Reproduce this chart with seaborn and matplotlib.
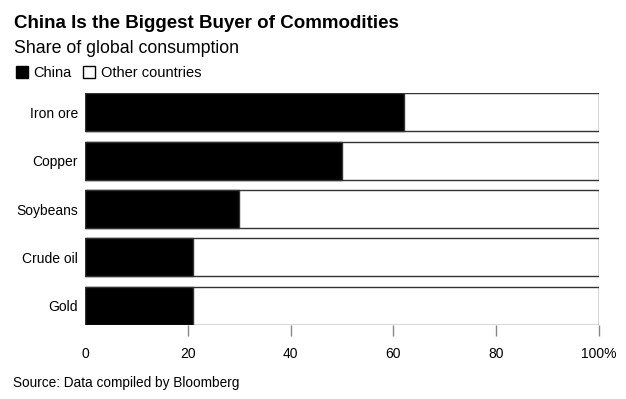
import pandas as pd
import matplotlib.pyplot as plt
import seaborn as sns
from matplotlib.patches import Patch

# data (share of global consumption, %)
commodities = ['Iron ore', 'Copper', 'Soybeans', 'Crude oil', 'Gold']
china_share = [62, 50, 30, 21, 21]
total_share = [100, 100, 100, 100, 100]
x_ticks = [0, 20, 40, 60, 80, 100]
x_tick_labels = ['0', '20', '40', '60', '80', '100%']

df = pd.DataFrame({'Commodity': commodities, 'China': china_share, 'Total': total_share})

sns.set_style('white')
plt.rcParams['font.family'] = ['Liberation Sans', 'DejaVu Sans']
plt.rcParams['text.color'] = 'black'
plt.rcParams['xtick.color'] = 'black'
plt.rcParams['ytick.color'] = 'black'

fig = plt.figure(figsize=(6.26, 3.99), dpi=100)
ax = fig.add_axes([85 / 626, 1 - 325 / 399, 514 / 626, 232 / 399])

# full bar = other countries (white), china drawn on top in black
sns.barplot(data=df, x='Total', y='Commodity', color='white', edgecolor='#333333',
            linewidth=1, width=0.79, ax=ax)
sns.barplot(data=df, x='China', y='Commodity', color='black', edgecolor='#333333',
            linewidth=1, width=0.79, ax=ax)

ax.set_xlim(0, 100)
ax.set_ylim(4.4, -0.4)
ax.set_xticks(x_ticks)
ax.set_xticklabels(x_tick_labels, fontsize=10)
ax.set_xlabel('')
ax.set_ylabel('')
ax.tick_params(axis='x', length=8, width=1, color='#888888', labelcolor='black', pad=8, bottom=True)
ax.tick_params(axis='y', length=0, labelsize=10, labelcolor='black', pad=5)
ax.xaxis.get_major_ticks()[0].tick1line.set_visible(False)
sns.despine(ax=ax, left=True, bottom=True)

fig.text(14 / 626, 1 - 28 / 399, 'China Is the Biggest Buyer of Commodities',
         fontsize=13.5, fontweight='bold', ha='left', va='baseline', color='black')
fig.text(14 / 626, 1 - 53 / 399, 'Share of global consumption',
         fontsize=12.8, ha='left', va='baseline', color='black')
fig.text(13 / 626, 1 - 387 / 399, 'Source: Data compiled by Bloomberg',
         fontsize=9.8, ha='left', va='baseline', color='black')

handles = [Patch(facecolor='black', edgecolor='black', label='China'),
           Patch(facecolor='white', edgecolor='black', label='Other countries')]
fig.legend(handles=handles, loc='center left', bbox_to_anchor=(16 / 626, 1 - 73 / 399),
           ncol=2, frameon=False, fontsize=10.5, handlelength=0.8, handleheight=0.8,
           handletextpad=0.4, columnspacing=0.8, borderaxespad=0, borderpad=0)

fig.savefig('out.png', dpi=100)
